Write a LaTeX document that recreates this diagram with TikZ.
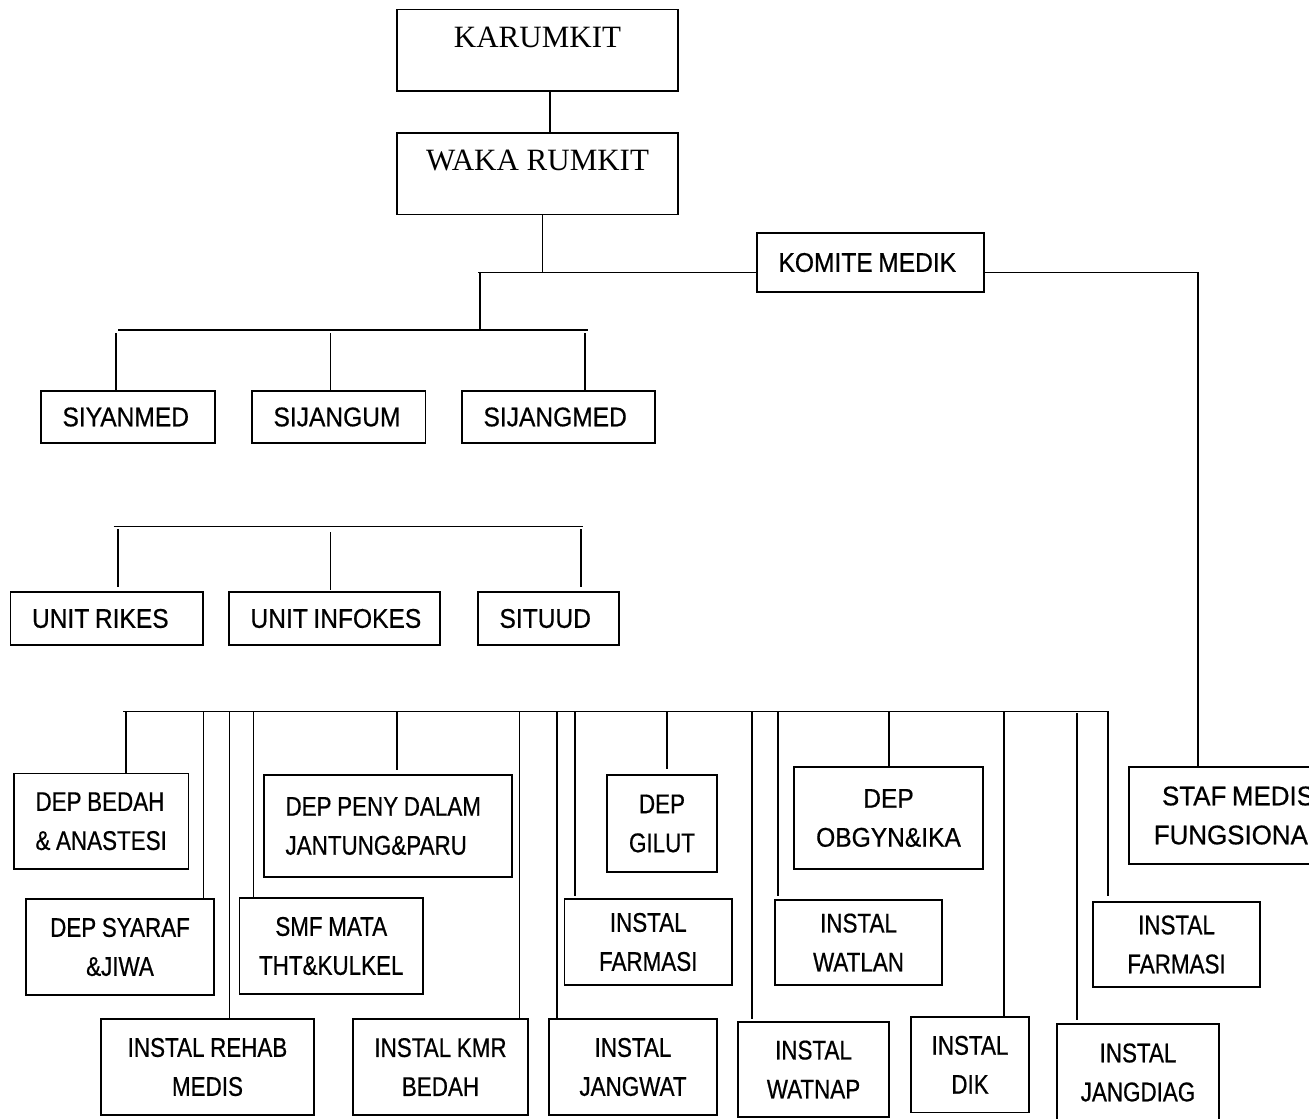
\documentclass[tikz,border=0pt]{standalone}
\usepackage{fontspec}
\newfontfamily\narsans[FakeStretch=0.83,FakeBold=0.6]{Liberation Sans}
\newfontfamily\midsans[FakeStretch=0.91,FakeBold=0.6]{Liberation Sans}
\newfontfamily\widesans[FakeStretch=0.96,FakeBold=0.6]{Liberation Sans}
\newfontfamily\serifkop{Liberation Serif}
\begin{document}
\begin{tikzpicture}[x=0.5pt,y=-0.5pt,
  bx/.style={draw, line width=0.9pt, inner sep=0pt, font=\narsans\fontsize{13.5}{19.5}\selectfont, execute at begin node={\spaceskip=2.8pt\relax}},
  ctr/.style={bx, align=center},
  lft/.style={bx, align=left, inner xsep=10.75pt},
  upper/.style={font=\midsans\fontsize{13.5}{19.5}\selectfont},
  headbox/.style={draw, line width=0.9pt, inner sep=0pt, font=\serifkop\fontsize{15.5}{18}\selectfont, text height=11pt, text depth=13.8pt},
  ln/.style={line width=0.7pt}]
\useasboundingbox (0,0) rectangle (1309,1118);
\clip (0,0) rectangle (1309,1118);

% top
\node[headbox, minimum width=140.5pt, minimum height=40.75pt] (karumkit) at (537.5,50.25) {KARUMKIT};
\node[headbox, minimum width=140.5pt, minimum height=40.75pt] (waka) at (537.5,173.75) {WAKA RUMKIT};
\node[lft, upper, text width=92pt, minimum height=29.5pt] (komite) at (870.5,262.5) {\mbox{KOMITE MEDIK}};

\node[lft, upper, text width=65.5pt, minimum height=26pt] (siyanmed) at (128,417) {\mbox{SIYANMED}};
\node[lft, upper, text width=65.25pt, minimum height=26pt] (sijangum) at (338.75,417) {\mbox{SIJANGUM}};
\node[lft, upper, text width=75pt, minimum height=26pt] (sijangmed) at (558.5,417) {\mbox{SIJANGMED}};

\node[lft, upper, text width=74.75pt, minimum height=26.5pt] (rikes) at (106.75,618.5) {\mbox{UNIT RIKES}};
\node[lft, upper, text width=84pt, minimum height=26.5pt] (infokes) at (334.5,618.5) {\mbox{UNIT INFOKES}};
\node[lft, upper, text width=49pt, minimum height=26.5pt] (situud) at (548.5,618.5) {\mbox{SITUUD}};

% bottom
\node[lft, text width=65.75pt, minimum height=47.75pt] (bedah) at (101.25,821.25) {\mbox{DEP BEDAH}\\\mbox{\& ANASTESI}};
\node[ctr, minimum width=94pt, minimum height=48pt] (syaraf) at (120,947) {DEP SYARAF\\\&JIWA};
\node[ctr, minimum width=106.5pt, minimum height=48pt] (rehab) at (207.5,1067) {INSTAL REHAB\\MEDIS};
\node[lft, text width=102.5pt, minimum height=51pt] (peny) at (388,826) {\mbox{DEP PENY DALAM}\\\mbox{JANTUNG\&PARU}};
\node[ctr, minimum width=91.75pt, minimum height=48pt] (smf) at (331.25,946) {SMF MATA\\THT\&KULKEL};
\node[ctr, minimum width=87.5pt, minimum height=48pt] (kmr) at (440.5,1067) {INSTAL KMR\\BEDAH};
\node[ctr, minimum width=55pt, minimum height=48.5pt] (gilut) at (662,823.5) {DEP\\GILUT};
\node[ctr, minimum width=83.75pt, minimum height=43pt] (farmasia) at (648.25,942) {INSTAL\\FARMASI};
\node[ctr, minimum width=84pt, minimum height=48pt] (jangwat) at (633,1067) {INSTAL\\JANGWAT};
\node[ctr, upper, minimum width=94.5pt, minimum height=51pt] (obgyn) at (888.5,818) {DEP\\OBGYN\&IKA};
\node[ctr, minimum width=83.5pt, minimum height=42.5pt] (watlan) at (858.5,942.5) {INSTAL\\WATLAN};
\node[ctr, minimum width=75.5pt, minimum height=47.5pt] (watnap) at (813.5,1069.5) {INSTAL\\WATNAP};
\node[ctr, minimum width=59pt, minimum height=47.75pt] (dik) at (970,1064.75) {INSTAL\\DIK};
\node[ctr, minimum width=83.5pt, minimum height=42.5pt] (farmasib) at (1176.5,944.5) {INSTAL\\FARMASI};
\node[ctr, minimum width=81pt, minimum height=48.5pt] (jangdiag) at (1138,1072.5) {INSTAL\\JANGDIAG};
\node[ctr, font=\widesans\fontsize{13.5}{19.5}\selectfont, minimum width=109pt, minimum height=48.5pt] (staf) at (1238,815.5) {STAF MEDIS\\FUNGSIONAL};

% top connectors
\coordinate (kx) at (550,0);
\draw[ln] (karumkit.south -| kx) -- (waka.north -| kx);
\coordinate (wj) at (542.5,272.5);
\coordinate (cl) at (478,272.5);
\coordinate (sj) at (1198,272.5);
\draw[ln] (waka.south -| wj) -- (wj);
\draw[ln] (cl) -- (wj) -- (komite.west |- wj);
\draw[ln] (komite.east |- sj) -- (sj) -- (sj |- staf.north);
\coordinate (ct) at (480,272.5);
\coordinate (cb) at (480,330);
\draw[ln] (ct) -- (cb);
\coordinate (bal) at (118,330);
\coordinate (bar) at (588,330);
\draw[ln] (bal) -- (bar);
\coordinate (va) at (116,333);
\coordinate (vb) at (330.5,333);
\coordinate (vc) at (585,333);
\draw[ln] (va) -- (va |- siyanmed.north);
\draw[ln] (vb) -- (vb |- sijangum.north);
\draw[ln] (vc) -- (vc |- sijangmed.north);

% middle connectors
\coordinate (bbl) at (113.5,526.5);
\coordinate (bbr) at (583,526.5);
\draw[ln] (bbl) -- (bbr);
\coordinate (vd) at (118,529);
\coordinate (ve) at (330.5,532);
\coordinate (vf) at (581,529);
\draw[ln, shorten >=2pt] (vd) -- (vd |- rikes.north);
\draw[ln, shorten >=0.5pt] (ve) -- (ve |- infokes.north);
\draw[ln, shorten >=2pt] (vf) -- (vf |- situud.north);

% bottom bus
\coordinate (bcl) at (123,711.5);
\coordinate (bcr) at (1108,711.5);
\draw[ln, shorten >=2.5pt] (bcl) -- (bcr) -- (bcr |- farmasib.north);
\coordinate (w1) at (126,711.5);
\coordinate (w2) at (203.5,711.5);
\coordinate (w3) at (229.5,711.5);
\coordinate (w4) at (253.5,711.5);
\coordinate (w5) at (397,711.5);
\coordinate (w6) at (519.5,711.5);
\coordinate (w7) at (557,711.5);
\coordinate (w8) at (575,711.5);
\coordinate (w9) at (667,711.5);
\coordinate (w10) at (752,711.5);
\coordinate (w11) at (778,711.5);
\coordinate (w12) at (889,711.5);
\coordinate (w13) at (1004,711.5);
\coordinate (w14) at (1077,713);
\draw[ln] (w1) -- (w1 |- bedah.north);
\draw[ln] (w2) -- (w2 |- syaraf.north);
\draw[ln] (w3) -- (w3 |- rehab.north);
\draw[ln] (w4) -- (w4 |- smf.north);
\draw[ln, shorten >=2pt] (w5) -- (w5 |- peny.north);
\draw[ln] (w6) -- (w6 |- kmr.north);
\draw[ln] (w7) -- (w7 |- jangwat.north);
\draw[ln, shorten >=1pt] (w8) -- (w8 |- farmasia.north);
\draw[ln, shorten >=2.5pt] (w9) -- (w9 |- gilut.north);
\draw[ln, shorten >=1pt] (w10) -- (w10 |- watnap.north);
\draw[ln, shorten >=1.5pt] (w11) -- (w11 |- watlan.north);
\draw[ln] (w12) -- (w12 |- obgyn.north);
\draw[ln] (w13) -- (w13 |- dik.north);
\draw[ln, shorten >=1.5pt] (w14) -- (w14 |- jangdiag.north);
\end{tikzpicture}
\end{document}
